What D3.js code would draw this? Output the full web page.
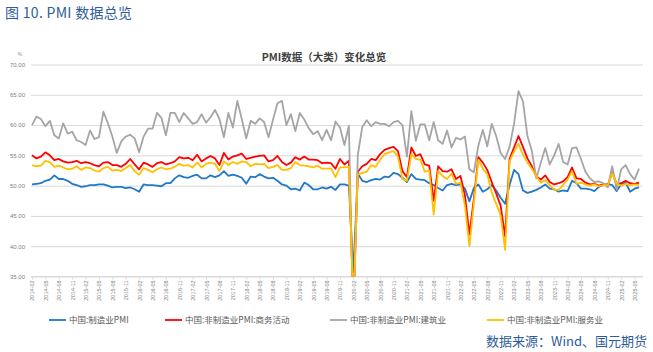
<!DOCTYPE html>
<html>
<head>
<meta charset="utf-8">
<script src="https://cdn.jsdelivr.net/npm/d3@7"></script>
<style>
body{margin:0;background:#fff;}
svg{display:block;font-family:"Noto Sans CJK SC","Noto Sans",sans-serif;}
</style>
</head>
<body>
<div id="chart"></div>
<script>
// 月度数据 2014-02 ~ 2025-06
var startYear = 2014, startMonth = 2, monthCount = 137;

var mfg = [
  50.2,50.3,50.4,50.8,51.0,51.7,51.1,51.1,50.8,50.3,50.1,
  49.8,49.9,50.1,50.1,50.2,50.2,50.0,49.7,49.8,49.8,49.6,49.7,
  49.4,49.0,50.2,50.1,50.1,50.0,49.9,50.4,50.4,51.2,51.7,51.4,
  51.3,51.6,51.8,51.2,51.2,51.7,51.4,51.7,52.4,51.6,51.8,51.6,
  51.3,50.3,51.5,51.4,51.9,51.5,51.2,51.3,50.8,50.2,50.0,49.4,
  49.5,49.2,50.5,50.1,49.4,49.4,49.7,49.5,49.8,49.3,50.2,50.2,
  50.0,35.7,52.0,50.8,50.6,50.9,51.1,51.0,51.5,51.4,52.1,51.9,
  51.3,50.6,51.9,51.1,51.0,50.9,50.4,50.1,49.6,49.2,50.1,50.3,
  50.1,50.2,49.5,47.4,49.6,50.2,49.0,49.4,50.1,49.2,48.0,47.0,
  50.1,52.6,51.9,49.2,48.8,49.0,49.3,49.7,50.2,49.5,49.4,49.0,
  49.2,49.1,50.8,50.4,49.5,49.5,49.4,49.1,49.8,50.1,50.3,50.1,
  49.1,50.2,50.5,49.0,49.5,49.7
];

var business = [
  55.0,54.5,54.8,55.5,55.0,54.2,54.4,54.0,53.8,53.9,54.1,
  53.7,53.9,53.7,53.4,53.2,53.8,53.9,53.4,53.4,53.1,53.6,54.4,
  53.5,52.7,53.8,53.5,53.1,53.7,53.9,53.5,53.7,54.0,54.7,54.5,
  54.6,54.2,55.1,54.0,54.5,54.9,54.5,53.4,55.4,54.3,54.8,55.0,
  55.3,54.4,54.6,54.8,54.9,55.0,54.0,54.2,54.9,53.9,53.4,53.8,
  54.7,54.3,54.8,54.3,54.3,54.2,53.7,53.8,53.7,52.8,54.4,53.5,
  54.1,29.6,52.3,53.2,53.6,54.4,54.2,55.2,55.9,56.2,56.4,55.7,
  52.4,51.4,56.3,54.9,55.2,53.5,53.3,47.5,53.2,52.4,52.3,52.7,
  51.1,51.6,48.4,41.9,47.8,54.7,53.8,52.6,50.6,48.7,46.7,41.6,
  54.4,56.3,58.2,56.4,54.5,53.2,51.5,51.0,51.7,50.6,50.2,50.4,
  50.7,51.4,53.0,51.2,51.1,50.5,50.2,50.3,50.0,50.2,50.0,52.2,
  50.2,50.4,50.8,50.4,50.3,50.5
];

var construction = [
  60.0,61.4,61.0,59.8,60.7,58.3,57.8,60.3,58.6,58.9,57.5,
  57.2,56.7,59.1,57.7,58.0,62.2,60.3,58.1,55.4,57.3,58.1,58.4,
  57.8,55.5,58.1,59.4,59.4,62.0,61.2,58.3,62.0,62.0,60.5,62.0,
  61.1,60.2,60.5,61.8,60.4,61.3,62.5,61.0,58.0,62.0,59.6,64.0,
  61.0,57.8,60.7,60.2,61.1,60.5,58.0,60.9,63.6,64.0,60.0,61.8,
  59.0,62.0,60.9,59.5,58.5,59.0,57.5,59.2,57.5,60.6,59.6,56.7,
  59.9,26.6,55.1,59.7,60.8,59.8,60.5,60.2,60.2,59.8,60.5,60.7,
  60.0,54.8,62.3,57.4,60.1,60.1,57.5,60.5,57.5,56.9,59.1,56.3,
  57.9,57.6,58.1,52.7,52.2,56.6,59.2,56.5,60.2,58.2,55.4,54.4,
  56.4,60.2,65.6,63.9,58.2,55.7,51.2,53.8,56.2,53.5,55.0,56.9,
  53.9,53.5,56.2,56.3,54.4,52.3,51.2,50.6,50.7,50.4,49.7,53.2,
  49.3,52.7,53.4,51.9,51.0,52.8
];

var services = [
  53.4,53.2,53.3,54.1,53.9,53.1,53.3,53.0,52.7,52.8,53.2,
  52.6,53.0,52.9,52.5,52.3,52.9,53.1,52.5,52.6,52.4,52.9,53.4,
  52.4,51.8,52.9,52.6,52.2,52.7,53.0,52.7,52.8,53.1,53.6,53.3,
  53.4,53.0,53.8,53.0,53.6,53.8,53.6,52.4,54.0,53.4,53.9,53.6,
  54.0,53.9,53.2,53.6,53.5,53.6,52.9,53.1,53.4,52.6,52.6,52.9,
  53.9,53.4,53.3,53.2,53.0,53.3,52.8,52.8,52.8,51.4,53.0,53.0,
  53.1,30.1,51.8,52.1,52.3,53.4,53.1,54.3,55.2,55.5,55.7,54.8,
  51.1,50.8,55.2,54.4,54.3,52.3,52.5,45.2,52.4,51.6,51.1,52.0,
  50.3,50.5,46.7,40.0,47.1,54.3,52.8,51.9,48.9,47.0,45.1,39.4,
  54.0,55.6,56.9,55.1,53.8,52.8,51.5,50.5,50.9,50.1,49.3,49.3,
  50.1,51.0,52.4,50.3,50.5,50.2,50.0,50.2,49.9,50.1,50.1,52.0,
  50.3,50.0,50.3,50.1,50.2,50.1
];

var seriesNames = ["中国:制造业PMI", "中国:非制造业PMI:商务活动", "中国:非制造业PMI:建筑业", "中国:非制造业PMI:服务业"];
var seriesColors = ["#1f78c8", "#ff0000", "#a5a5a5", "#ffc000"];
var yTicks = [35, 40, 45, 50, 55, 60, 65, 70];

var months = [];
for (var i = 0; i < monthCount; i++) {
  var m = startMonth - 1 + i;
  var yy = startYear + Math.floor(m / 12), mm = m % 12 + 1;
  months.push(yy + "-" + (mm < 10 ? "0" + mm : mm));
}
var tickLabels = months.filter(function(d, i) { return i % 3 == 0; });

var width = 653, height = 352;
var margin = {top: 64.5, bottom: 276.5, left: 31, right: 643};

var svg = d3.select("#chart").append("svg")
  .attr("width", width)
  .attr("height", height);

var x = d3.scalePoint()
  .domain(months)
  .range([32, 639]);

var y = d3.scaleLinear()
  .domain([35, 70])
  .range([margin.bottom, margin.top]);

// 标题
svg.append("text")
  .attr("x", 5).attr("y", 18)
  .style("font-size", "14px")
  .style("letter-spacing", "0.3px")
  .style("fill", "#2e5c9a")
  .text("图 10. PMI 数据总览");

svg.append("text")
  .attr("x", 324).attr("y", 61)
  .attr("text-anchor", "middle")
  .style("font-size", "10.5px")
  .style("font-weight", "bold")
  .style("fill", "#404040")
  .text("PMI数据（大类）变化总览");

svg.append("text")
  .attr("x", 20).attr("y", 56)
  .attr("text-anchor", "middle")
  .style("font-size", "5px")
  .style("fill", "#7f7f7f")
  .text("%");

// 网格 + y轴
var yAxis = d3.axisLeft(y)
  .tickValues(yTicks)
  .tickSize(-(margin.right - margin.left))
  .tickFormat(d3.format(".2f"));

var gy = svg.append("g")
  .attr("transform", "translate(" + margin.left + ",0)")
  .call(yAxis);
gy.select(".domain").remove();
gy.selectAll("line").style("stroke", "#d9d9d9").style("stroke-width", 1);
gy.selectAll("text")
  .attr("x", -6)
  .style("font-size", "6px")
  .style("fill", "#7f7f7f")
  .style("font-family", "Liberation Sans, sans-serif");

// x轴
var xAxis = d3.axisBottom(x)
  .tickValues(tickLabels)
  .tickSize(3)
  .tickPadding(2);

var gx = svg.append("g")
  .attr("transform", "translate(0," + margin.bottom + ")")
  .call(xAxis);
gx.select(".domain")
  .attr("d", "M" + margin.left + ",0H" + margin.right)
  .style("stroke", "#d9d9d9");
gx.selectAll("line").style("stroke", "#d9d9d9");
gx.selectAll("text")
  .attr("transform", "rotate(-90)")
  .attr("x", -4)
  .attr("y", 0)
  .attr("dy", "0.35em")
  .attr("text-anchor", "end")
  .style("font-size", "5.5px")
  .style("fill", "#7f7f7f")
  .style("font-family", "Liberation Sans, sans-serif");

// 折线
svg.append("clipPath").attr("id", "clip")
  .append("rect")
  .attr("x", 0).attr("y", margin.top - 5)
  .attr("width", width).attr("height", margin.bottom - margin.top + 5);

var line = d3.line()
  .x(function(d, i) { return x(months[i]); })
  .y(function(d) { return y(d); });

var allSeries = [mfg, business, construction, services];
var gLines = svg.append("g").attr("clip-path", "url(#clip)");
allSeries.forEach(function(s, k) {
  gLines.append("path")
    .datum(s)
    .attr("d", line)
    .style("fill", "none")
    .style("stroke", seriesColors[k])
    .style("stroke-width", 1.8)
    .style("stroke-linejoin", "round");
});

// 图例
var legendX = [49, 165, 330, 487];
var legend = svg.append("g").attr("transform", "translate(0,320)");
seriesNames.forEach(function(n, k) {
  legend.append("line")
    .attr("x1", legendX[k]).attr("x2", legendX[k] + 17)
    .attr("y1", 0).attr("y2", 0)
    .style("stroke", seriesColors[k])
    .style("stroke-width", 1.8);
  legend.append("text")
    .attr("x", legendX[k] + 20).attr("y", 3)
    .style("font-size", "8.5px")
    .style("fill", "#595959")
    .text(n);
});

// 数据来源
svg.append("text")
  .attr("x", 647).attr("y", 346)
  .attr("text-anchor", "end")
  .style("font-size", "13px")
  .style("fill", "#2e5c9a")
  .text("数据来源：Wind、国元期货");
</script>
</body>
</html>
